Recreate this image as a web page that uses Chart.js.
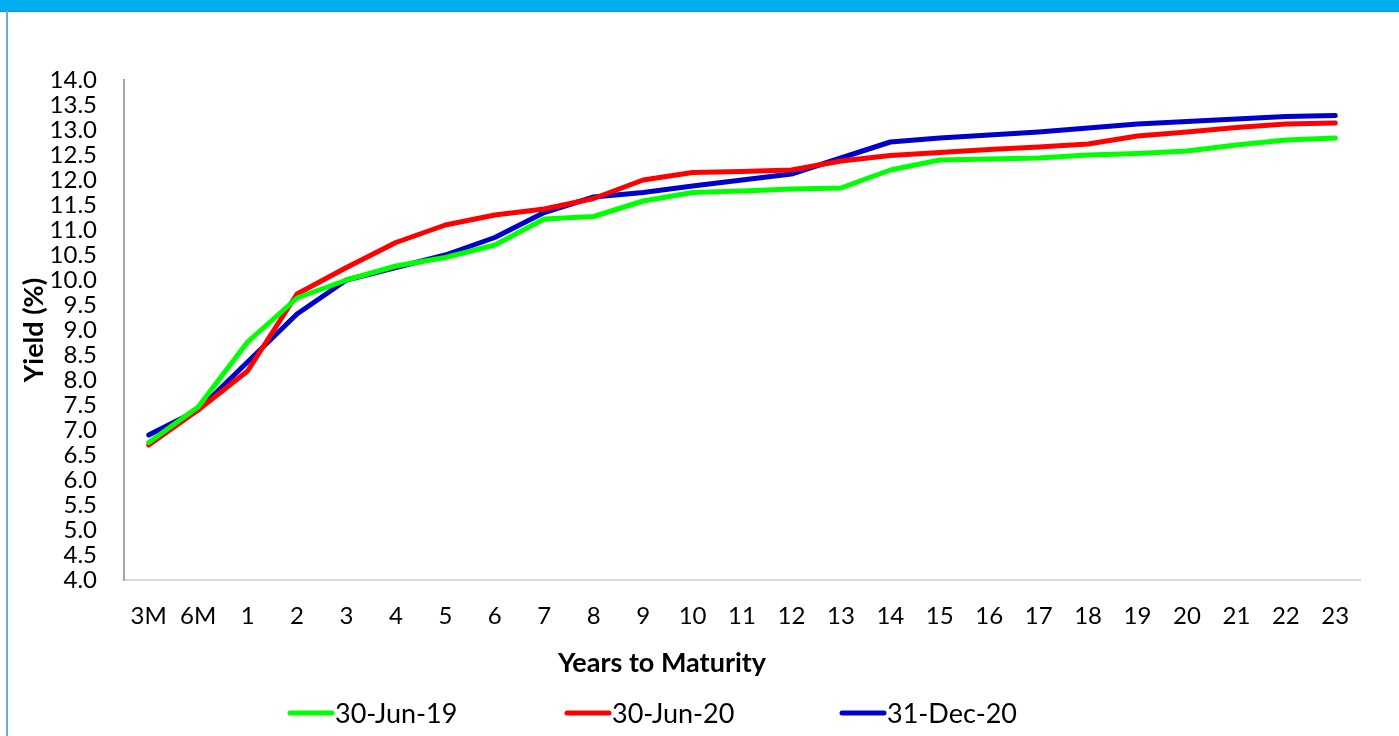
<!DOCTYPE html>
<html>
<head>
<meta charset="utf-8">
<script src="https://cdn.jsdelivr.net/npm/chart.js@4"></script>
<style>
  body { margin: 0; background: #fff; }
  #topbar { position: absolute; left: 0; top: 0; width: 1399px; height: 11px; background: #00AEEF; border-bottom: 1px solid #0099d6; }
  #leftline { position: absolute; left: 6px; top: 11px; width: 2px; height: 725px; background: #6FA8DC; }
  #wrap { position: absolute; left: 0; top: 0; width: 1399px; height: 736px; }
</style>
</head>
<body>
<div id="topbar"></div>
<div id="leftline"></div>
<div id="wrap"><canvas id="yieldChart"></canvas></div>
<script>
const maturities = ["3M","6M","1","2","3","4","5","6","7","8","9","10","11","12","13","14","15","16","17","18","19","20","21","22","23"];
const jun19 = [6.75,7.46,8.76,9.64,10.0,10.28,10.45,10.7,11.22,11.27,11.58,11.75,11.78,11.82,11.84,12.2,12.4,12.42,12.44,12.5,12.53,12.58,12.7,12.8,12.84];
const jun20 = [6.7,7.4,8.18,9.72,10.25,10.75,11.1,11.3,11.42,11.63,12.0,12.15,12.17,12.2,12.38,12.49,12.55,12.61,12.66,12.72,12.88,12.96,13.05,13.12,13.14];
const dec20 = [6.9,7.4,8.36,9.32,10.0,10.25,10.5,10.85,11.35,11.66,11.75,11.88,12.0,12.12,12.44,12.76,12.84,12.9,12.96,13.04,13.12,13.17,13.22,13.27,13.29];
const seriesNames = ["30-Jun-19","30-Jun-20","31-Dec-20"];
const seriesColors = ["#00FF00","#FF0000","#0000CC"];
const xTitle = "Years to Maturity";

Chart.defaults.font.family = "Lato, 'Open Sans', sans-serif";
Chart.defaults.color = "#000";

// legend + x title drawn by hand: the original has them off the plot centre
const spreadLegend = {
    id: "spreadLegend",
    afterDraw(chart){
        const ctx = chart.ctx;
        const starts = [288, 565, 840];
        const y = 713;
        ctx.save();
        ctx.fillStyle = "#000";
        ctx.textBaseline = "middle";
        ctx.textAlign = "center";
        ctx.font = "bold 27px Lato, 'Open Sans', sans-serif";
        ctx.fillText(xTitle, 662, 663);
        ctx.textAlign = "left";
        ctx.font = "27px Lato, 'Open Sans', sans-serif";
        chart.data.datasets.forEach((ds, i) => {
            ctx.strokeStyle = ds.borderColor;
            ctx.lineWidth = 5;
            ctx.lineCap = "round";
            ctx.beginPath();
            ctx.moveTo(starts[i] + 2, y);
            ctx.lineTo(starts[i] + 44, y);
            ctx.stroke();
            ctx.fillText(ds.label, starts[i] + 47, y + 1);
        });
        ctx.restore();
    }
};

const ctx = document.getElementById("yieldChart");
new Chart(ctx, {
    type: "line",
    data: {
        labels: maturities,
        datasets: [jun19, jun20, dec20].map((d, i) => ({
            label: seriesNames[i],
            data: d,
            borderColor: seriesColors[i],
            backgroundColor: seriesColors[i],
            borderWidth: 5,
            pointRadius: 0,
            tension: 0,
            borderCapStyle: "round",
            borderJoinStyle: "round"
        }))
    },
    options: {
        responsive: true,
        maintainAspectRatio: false,
        animation: false,
        layout: { padding: { top: 80, right: 39, left: 0, bottom: 0 } },
        plugins: {
            legend: { display: false },
            tooltip: { enabled: false }
        },
        scales: {
            x: {
                offset: true,
                grid: { display: false, drawTicks: false },
                border: { color: "#d9d9d9", width: 2 },
                ticks: { padding: 24, font: { size: 24, lineHeight: 1 }, maxRotation: 0, autoSkip: false },
                title: { display: false },
                afterFit(scale){ scale.height = 156; }
            },
            y: {
                min: 4,
                max: 14,
                grid: { display: false, drawTicks: false },
                border: { color: "#a6a6a6", width: 2 },
                ticks: { stepSize: 0.5, padding: 27, autoSkip: false, font: { size: 24, lineHeight: 1 }, callback: v => v.toFixed(1) },
                title: { display: true, text: "Yield (%)", font: { size: 27, weight: "bold", lineHeight: 1.2 }, padding: { top: 18, bottom: 0 } },
                afterFit(scale){ scale.width = 124; }
            }
        }
    },
    plugins: [spreadLegend]
});
</script>
</body>
</html>
